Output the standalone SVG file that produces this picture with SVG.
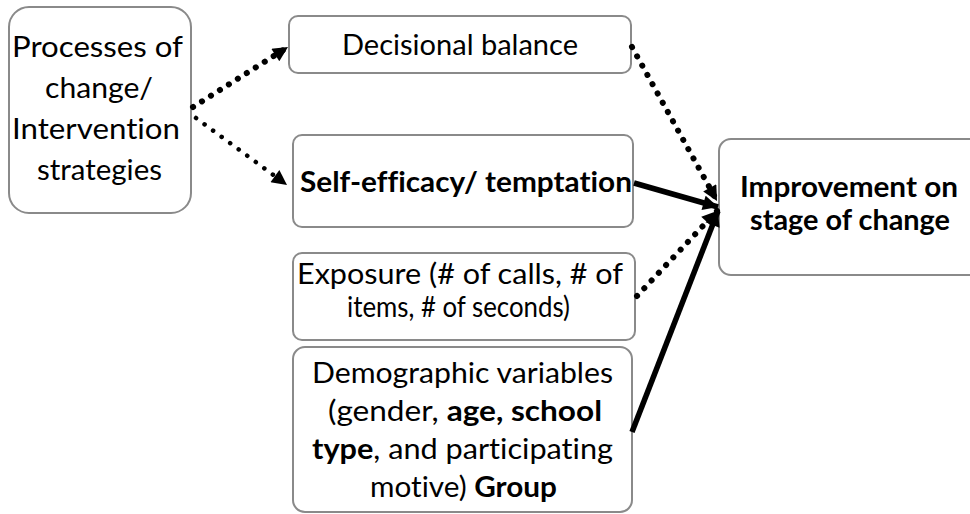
<svg xmlns="http://www.w3.org/2000/svg" width="970" height="514" viewBox="0 0 970 514">
  <style>
    .box { fill: #ffffff; stroke: #8a8a8a; stroke-width: 2; }
    .lbl { font-family: Lato, "Open Sans", "Liberation Sans", sans-serif; font-size: 29px; fill: #000000; font-variant-ligatures: none; }
    .b { font-weight: bold; }
    .dotbig { fill: none; stroke: #000; stroke-width: 6; stroke-linecap: round; stroke-dasharray: 0.1 10.5; }
    .dotsmall { fill: none; stroke: #000; stroke-width: 4.5; stroke-linecap: round; stroke-dasharray: 0.1 10.5; }
    .solid { fill: none; stroke: #000; stroke-width: 5.5; }
  </style>
  <defs>
    <marker id="arrow" viewBox="0 0 10 10" refX="10" refY="5" markerUnits="userSpaceOnUse" markerWidth="17" markerHeight="15" orient="auto">
      <path d="M0,0 L10,5 L0,10 z" fill="#000"/>
    </marker>
  </defs>

  <rect width="970" height="514" fill="#ffffff"/>

  <g id="processes">
    <rect class="box" x="9" y="7" width="182" height="206" rx="20"/>
    <text class="lbl" x="12" y="57" textLength="171" lengthAdjust="spacingAndGlyphs">Processes of</text>
    <text class="lbl" x="45" y="98" textLength="108" lengthAdjust="spacingAndGlyphs">change/</text>
    <text class="lbl" x="12" y="139" textLength="168" lengthAdjust="spacingAndGlyphs">Intervention</text>
    <text class="lbl" x="37" y="180" textLength="125" lengthAdjust="spacingAndGlyphs">strategies</text>
  </g>

  <g id="decisional-balance">
    <rect class="box" x="289" y="16" width="342" height="57" rx="9"/>
    <text class="lbl" x="342" y="55" textLength="236" lengthAdjust="spacingAndGlyphs">Decisional balance</text>
  </g>

  <g id="self-efficacy">
    <rect class="box" x="293" y="135" width="340" height="92" rx="9"/>
    <text class="lbl b" x="300" y="192" textLength="332" lengthAdjust="spacingAndGlyphs">Self-efficacy/ temptation</text>
  </g>

  <g id="exposure">
    <rect class="box" x="293" y="253" width="342" height="87" rx="9"/>
    <text class="lbl" x="297" y="284" textLength="326" lengthAdjust="spacingAndGlyphs">Exposure (# of calls, # of</text>
    <text class="lbl" x="347" y="317" textLength="223" lengthAdjust="spacingAndGlyphs">items, # of seconds)</text>
  </g>

  <g id="demographics">
    <rect class="box" x="293" y="347" width="339" height="165" rx="12"/>
    <text class="lbl" x="312" y="383" textLength="301" lengthAdjust="spacingAndGlyphs">Demographic variables</text>
    <text class="lbl" x="328" y="421" textLength="274" lengthAdjust="spacingAndGlyphs">(gender, <tspan class="b">age, school</tspan></text>
    <text class="lbl" x="312" y="459" textLength="301" lengthAdjust="spacingAndGlyphs"><tspan class="b">type</tspan>, and participating</text>
    <text class="lbl" x="370" y="497" textLength="187" lengthAdjust="spacingAndGlyphs">motive) <tspan class="b">Group</tspan></text>
  </g>

  <g id="improvement">
    <rect class="box" x="719" y="139" width="262" height="136" rx="12"/>
    <text class="lbl b" x="740" y="197" textLength="218" lengthAdjust="spacingAndGlyphs">Improvement on</text>
    <text class="lbl b" x="750" y="230" textLength="200" lengthAdjust="spacingAndGlyphs">stage of change</text>
  </g>

  <g id="connectors">
    <path class="dotbig" d="M193,107 L288,47" marker-end="url(#arrow)"/>
    <path class="dotsmall" d="M196,118 L287,185" marker-end="url(#arrow)"/>
    <path class="dotbig" d="M632,47 L717,201" marker-end="url(#arrow)"/>
    <path class="solid" d="M634,183 L718,207" marker-end="url(#arrow)"/>
    <path class="dotbig" d="M637,296 L717,211" marker-end="url(#arrow)"/>
    <path class="solid" d="M632,432 L718,211" marker-end="url(#arrow)"/>
  </g>
</svg>
